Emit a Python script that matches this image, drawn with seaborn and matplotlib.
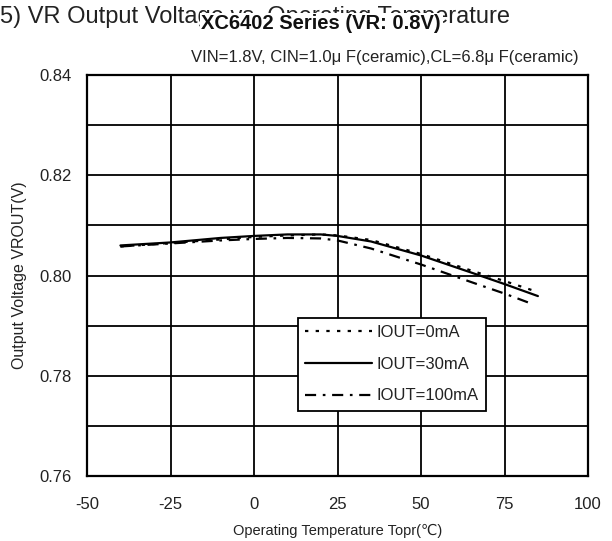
import pandas as pd
import matplotlib.pyplot as plt
import seaborn as sns
from matplotlib.lines import Line2D

# data
temp = [-40, -25, -10, 0, 10, 20, 25, 35, 50, 65, 75, 85]
temp_100 = [-40, -25, -10, 0, 10, 20, 25, 35, 50, 65, 75, 83]
v_0mA = [0.8058, 0.8065, 0.8072, 0.8077, 0.8080, 0.8082, 0.8080, 0.8071, 0.8043, 0.8010, 0.7989, 0.7967]
v_30mA = [0.8060, 0.8066, 0.8075, 0.8079, 0.8082, 0.8082, 0.8079, 0.8068, 0.8040, 0.8006, 0.7983, 0.7959]
v_100mA = [0.8058, 0.8064, 0.8070, 0.8073, 0.8075, 0.8074, 0.8070, 0.8054, 0.8022, 0.7987, 0.7964, 0.7944]
labels = ['IOUT=0mA', 'IOUT=30mA', 'IOUT=100mA']
x_ticks = [-50, -25, 0, 25, 50, 75, 100]
y_ticks = [0.76, 0.78, 0.80, 0.82, 0.84]

sns.set_theme(style="white")
plt.rcParams['font.family'] = ['Liberation Sans', 'DejaVu Sans']
plt.rcParams['axes.unicode_minus'] = False

fig = plt.figure(figsize=(6.12, 5.41), dpi=100)
ax = fig.add_axes([0.1422, 0.1201, 0.8186, 0.7412])

styles = [(0, (1.5, 3.3)), '-', (0, (5, 3, 1.2, 3))]
series = [(temp, v_0mA), (temp, v_30mA), (temp_100, v_100mA)]
for (t, v), ls in zip(series, styles):
    df = pd.DataFrame({'t': t, 'v': v})
    sns.lineplot(data=df, x='t', y='v', ax=ax, color='black', lw=1.6, linestyle=ls)

ax.set_xlim(-50, 100)
ax.set_ylim(0.76, 0.84)
ax.set_xticks(x_ticks)
ax.set_yticks(y_ticks)
ax.set_yticks([0.77, 0.79, 0.81, 0.83], minor=True)
ax.set_yticklabels([f'{y:.2f}' for y in y_ticks])
ax.grid(True, which='both', color='black', lw=1.3)
ax.tick_params(axis='both', which='both', length=0, labelsize=12, colors='#222222')
ax.tick_params(axis='x', pad=15)
ax.tick_params(axis='y', pad=11)
for s in ax.spines.values():
    s.set_color('black')
    s.set_linewidth(1.6)

ax.set_xlabel('Operating Temperature Topr(℃)', fontsize=10.5, color='#222222')
ax.set_ylabel('Output Voltage VROUT(V)', fontsize=11.5, color='#222222')
ax.xaxis.set_label_coords(0.5, -0.12)
ax.yaxis.set_label_coords(-0.12, 0.5)

handles = [Line2D([], [], color='black', lw=1.6, linestyle=ls) for ls in styles]
leg = ax.legend(handles, labels, loc='upper right', bbox_to_anchor=(0.797, 0.395),
                handlelength=4.0, handletextpad=0.3, labelspacing=1.0, fontsize=12,
                frameon=True, fancybox=False, framealpha=1, borderpad=0.45,
                borderaxespad=0)
leg.get_frame().set_edgecolor('black')
leg.get_frame().set_linewidth(1.3)
for txt in leg.get_texts():
    txt.set_color('#222222')

fig.text(0.0, 0.9575, '5) VR Output Voltage vs. Operating Temperature', fontsize=17,
         va='baseline', ha='left', color='#222222')
fig.text(0.525, 0.946, 'XC6402 Series (VR: 0.8V)', fontsize=14.5, fontweight='bold',
         va='baseline', ha='center', color='#111111',
         bbox=dict(facecolor='white', edgecolor='none', pad=1))
fig.text(0.946, 0.886, 'VIN=1.8V, CIN=1.0μ F(ceramic),CL=6.8μ F(ceramic)', fontsize=12,
         va='baseline', ha='right', color='#222222')

fig.savefig('out.png', dpi=100)
